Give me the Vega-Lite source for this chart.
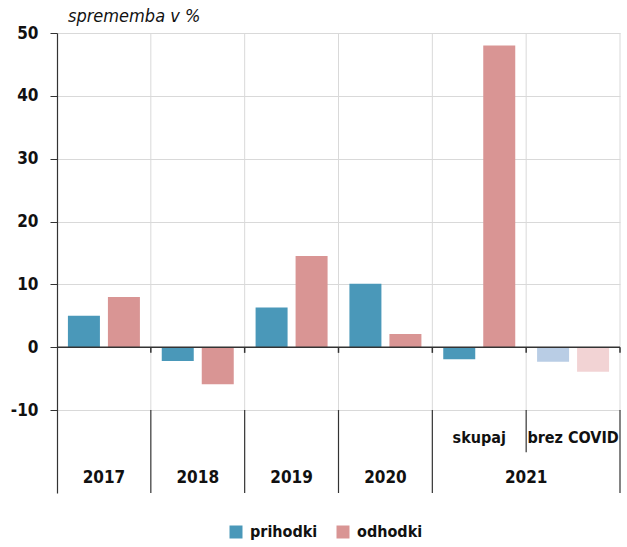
{
  "$schema": "https://vega.github.io/schema/vega-lite/v6.json",
  "width": 563,
  "height": 460,
  "autosize": {"type": "none"},
  "padding": {"left": 57, "top": 33, "right": 7, "bottom": 54},
  "background": "white",
  "config": {
    "view": {"stroke": null},
    "font": "DejaVu Sans Condensed, Roboto Condensed, Roboto"
  },
  "title": {
    "text": "sprememba v %",
    "anchor": "start",
    "frame": "group",
    "dx": 11,
    "dy": 5,
    "offset": 3,
    "font": "DejaVu Sans Condensed, Roboto Condensed, Roboto",
    "fontSize": 18,
    "fontStyle": "italic",
    "fontWeight": "normal",
    "color": "#111111"
  },
  "datasets": {
    "stolpci": [
      {"grp": "2017", "serija": "prihodki", "barva": "prihodki", "vrednost": 5.0},
      {"grp": "2017", "serija": "odhodki", "barva": "odhodki", "vrednost": 8.0},
      {"grp": "2018", "serija": "prihodki", "barva": "prihodki", "vrednost": -2.2},
      {"grp": "2018", "serija": "odhodki", "barva": "odhodki", "vrednost": -5.9},
      {"grp": "2019", "serija": "prihodki", "barva": "prihodki", "vrednost": 6.3},
      {"grp": "2019", "serija": "odhodki", "barva": "odhodki", "vrednost": 14.5},
      {"grp": "2020", "serija": "prihodki", "barva": "prihodki", "vrednost": 10.1},
      {"grp": "2020", "serija": "odhodki", "barva": "odhodki", "vrednost": 2.1},
      {"grp": "skupaj", "serija": "prihodki", "barva": "prihodki", "vrednost": -1.9},
      {"grp": "skupaj", "serija": "odhodki", "barva": "odhodki", "vrednost": 48.0},
      {"grp": "brez COVID", "serija": "prihodki", "barva": "prihodki brez COVID", "vrednost": -2.3},
      {"grp": "brez COVID", "serija": "odhodki", "barva": "odhodki brez COVID", "vrednost": -3.9}
    ],
    "zacetki": [
      {"grp": "2018"}, {"grp": "2019"}, {"grp": "2020"}, {"grp": "skupaj"}, {"grp": "brez COVID"}
    ],
    "konec": [{"grp": "brez COVID"}],
    "leta": [
      {"grp": "2017", "oznaka": "2017"},
      {"grp": "2018", "oznaka": "2018"},
      {"grp": "2019", "oznaka": "2019"},
      {"grp": "2020", "oznaka": "2020"}
    ],
    "leto2021": [{"grp": "skupaj", "oznaka": "2021"}],
    "pod": [
      {"grp": "skupaj", "oznaka": "skupaj"},
      {"grp": "brez COVID", "oznaka": "brez COVID"}
    ],
    "nic": [{"v": 0}]
  },
  "encoding": {
    "x": {
      "field": "grp",
      "type": "nominal",
      "sort": null,
      "scale": {"domain": ["2017", "2018", "2019", "2020", "skupaj", "brez COVID"], "paddingInner": 0, "paddingOuter": 0},
      "axis": null
    }
  },
  "layer": [
    {
      "data": {"name": "zacetki"},
      "mark": {"type": "rule", "color": "#d9d9d9", "strokeWidth": 1},
      "encoding": {
        "x": {"field": "grp", "type": "nominal", "bandPosition": 0},
        "y": {"datum": 50},
        "y2": {"datum": -10}
      }
    },
    {
      "data": {"name": "konec"},
      "mark": {"type": "rule", "color": "#d9d9d9", "strokeWidth": 1},
      "encoding": {
        "x": {"field": "grp", "type": "nominal", "bandPosition": 1},
        "y": {"datum": 50},
        "y2": {"datum": -10}
      }
    },
    {
      "data": {"name": "stolpci"},
      "transform": [{"filter": "datum.serija == 'prihodki'"}],
      "mark": {"type": "bar", "width": 32, "xOffset": -20},
      "encoding": {
        "y": {
          "field": "vrednost",
          "type": "quantitative",
          "scale": {"domain": [-23.2, 50], "nice": false, "zero": false},
          "axis": {
            "values": [-10, 0, 10, 20, 30, 40, 50],
            "labelExpr": "datum.value + ''",
            "title": null,
            "grid": true,
            "gridColor": "#d9d9d9",
            "gridWidth": 1,
            "domainColor": "#333333",
            "domainWidth": 1.2,
            "tickColor": "#333333",
            "tickSize": 7,
            "tickWidth": 1,
            "labelPadding": 12,
            "labelFont": "DejaVu Sans Condensed, Roboto Condensed, Roboto",
            "labelFontSize": 17,
            "labelFontWeight": "bold",
            "labelColor": "#111111"
          }
        },
        "color": {
          "field": "barva",
          "type": "nominal",
          "scale": {
            "domain": ["prihodki", "odhodki", "prihodki brez COVID", "odhodki brez COVID"],
            "range": ["#4a98b9", "#d99594", "#b9cde5", "#f2d3d4"]
          },
          "legend": {
            "values": ["prihodki", "odhodki"],
            "title": null,
            "orient": "none",
            "direction": "horizontal",
            "legendX": 171,
            "legendY": 491,
            "symbolType": "square",
            "symbolSize": 169,
            "symbolStrokeWidth": 0,
            "symbolOpacity": 1,
            "columnPadding": 17,
            "labelOffset": 6,
            "labelFont": "DejaVu Sans Condensed, Roboto Condensed, Roboto",
            "labelFontSize": 16,
            "labelFontWeight": "bold",
            "labelColor": "#111111"
          }
        }
      }
    },
    {
      "data": {"name": "stolpci"},
      "transform": [{"filter": "datum.serija == 'odhodki'"}],
      "mark": {"type": "bar", "width": 32, "xOffset": 20},
      "encoding": {
        "y": {"field": "vrednost", "type": "quantitative"},
        "color": {"field": "barva", "type": "nominal"}
      }
    },
    {
      "data": {"name": "nic"},
      "mark": {"type": "rule", "color": "#333333", "strokeWidth": 1.5},
      "encoding": {
        "x": null,
        "y": {"field": "v", "type": "quantitative"}
      }
    },
    {
      "data": {"name": "zacetki"},
      "mark": {"type": "rule", "color": "#333333", "strokeWidth": 1.5},
      "encoding": {
        "x": {"field": "grp", "type": "nominal", "bandPosition": 0},
        "y": {"datum": 0},
        "y2": {"datum": -0.9}
      }
    },
    {
      "data": {"name": "konec"},
      "mark": {"type": "rule", "color": "#333333", "strokeWidth": 1.5},
      "encoding": {
        "x": {"field": "grp", "type": "nominal", "bandPosition": 1},
        "y": {"datum": 0},
        "y2": {"datum": -0.9}
      }
    },
    {
      "data": {"name": "zacetki"},
      "transform": [{"filter": "datum.grp != 'brez COVID'"}],
      "mark": {"type": "rule", "color": "#333333", "strokeWidth": 1.2},
      "encoding": {
        "x": {"field": "grp", "type": "nominal", "bandPosition": 0},
        "y": {"datum": -10},
        "y2": {"datum": -23.2}
      }
    },
    {
      "data": {"name": "konec"},
      "mark": {"type": "rule", "color": "#333333", "strokeWidth": 1.2},
      "encoding": {
        "x": {"field": "grp", "type": "nominal", "bandPosition": 1},
        "y": {"datum": -10},
        "y2": {"datum": -23.2}
      }
    },
    {
      "data": {"name": "konec"},
      "mark": {"type": "rule", "color": "#333333", "strokeWidth": 1.2},
      "encoding": {
        "x": {"field": "grp", "type": "nominal", "bandPosition": 0},
        "y": {"datum": -10},
        "y2": {"datum": -16.7}
      }
    },
    {
      "data": {"name": "leta"},
      "mark": {"type": "text", "fontSize": 17, "fontWeight": "bold", "color": "#111111", "baseline": "middle", "font": "DejaVu Sans Condensed, Roboto Condensed, Roboto"},
      "encoding": {
        "y": {"datum": -20.8},
        "text": {"field": "oznaka"}
      }
    },
    {
      "data": {"name": "leto2021"},
      "mark": {"type": "text", "fontSize": 17, "fontWeight": "bold", "color": "#111111", "baseline": "middle", "font": "DejaVu Sans Condensed, Roboto Condensed, Roboto"},
      "encoding": {
        "x": {"field": "grp", "type": "nominal", "bandPosition": 1},
        "y": {"datum": -20.8},
        "text": {"field": "oznaka"}
      }
    },
    {
      "data": {"name": "pod"},
      "mark": {"type": "text", "fontSize": 16, "fontWeight": "bold", "color": "#111111", "baseline": "middle", "font": "DejaVu Sans Condensed, Roboto Condensed, Roboto"},
      "encoding": {
        "y": {"datum": -14.5},
        "text": {"field": "oznaka"}
      }
    }
  ]
}
